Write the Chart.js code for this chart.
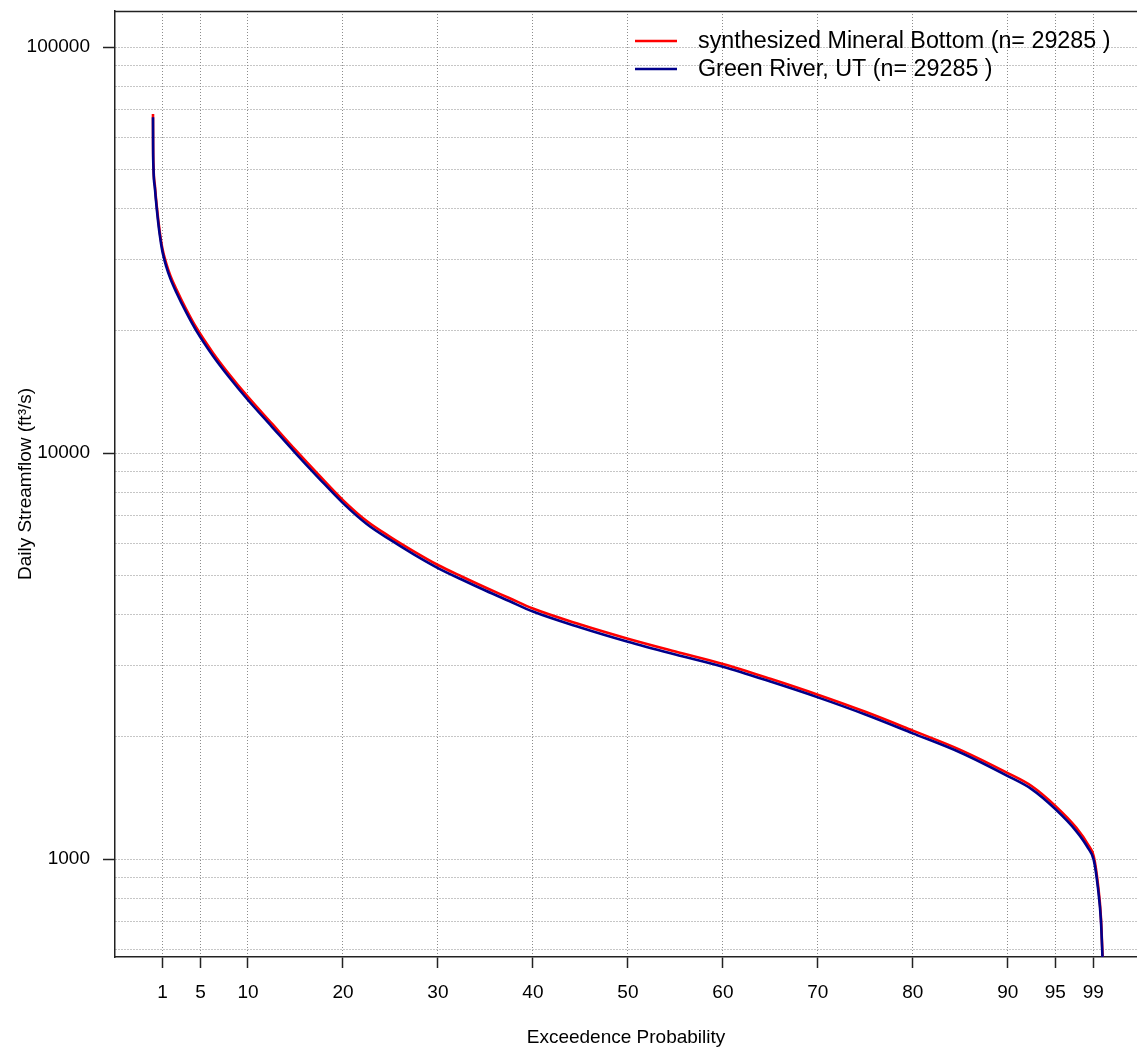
<!DOCTYPE html>
<html><head><meta charset="utf-8">
<script src="https://cdn.jsdelivr.net/npm/chart.js@4.4.1/dist/chart.umd.min.js"></script>
<style>html,body{margin:0;padding:0;background:#fff;overflow:hidden}</style>
</head><body>
<canvas id="c" width="1137" height="1051"></canvas>
<script>
const exceedance = [0, 0.01, 0.05, 0.2, 0.4, 0.7, 1.0, 1.4, 1.83, 2.45, 3.5, 4.57, 6.32, 8, 10, 12.5, 15, 17.5, 20, 22.5, 25, 27.5, 30, 32.5, 35, 37.5, 40, 45, 50, 55, 60, 65, 70, 75, 80, 85, 90, 92.5, 95, 97.2, 98.45, 99.05, 99.5, 99.8, 100];
const mineralBottom = [68400, 58300, 51100, 45600, 40500, 35200, 31800, 29300, 27350, 25350, 22600, 20350, 17650, 15660, 13750, 11830, 10180, 8810, 7660, 6800, 6210, 5720, 5300, 4965, 4665, 4395, 4140, 3782, 3490, 3245, 3025, 2780, 2540, 2305, 2072, 1858, 1628, 1513, 1352, 1195, 1085, 1015, 862, 720, 556];
const greenRiver = [67200, 57400, 50300, 44900, 39900, 34600, 31300, 28800, 26900, 24900, 22200, 20000, 17340, 15390, 13510, 11620, 10000, 8654, 7530, 6690, 6110, 5623, 5210, 4881, 4585, 4320, 4071, 3718, 3429, 3189, 2976, 2736, 2502, 2270, 2040, 1830, 1601, 1487, 1328, 1172, 1064, 994, 844, 707, 548];
const seriesNames = ['synthesized Mineral Bottom (n= 29285 )', 'Green River, UT (n= 29285 )'];
const seriesColors = ['#FF0000', '#00008B'];
const xTickValues = [1, 5, 10, 20, 30, 40, 50, 60, 70, 80, 90, 95, 99];
const yGridValues = [600, 700, 800, 900, 1000, 2000, 3000, 4000, 5000, 6000, 7000, 8000, 9000, 10000, 20000, 30000, 40000, 50000, 60000, 70000, 80000, 90000, 100000];
const yLabelValues = [1000, 10000, 100000];
const xTitle = 'Exceedence Probability';
const yTitle = 'Daily Streamflow (ft\u00B3/s)';

const FONT = '"Liberation Sans", Arial, sans-serif';

const framePlugin = {
  id: 'frameLegend',
  afterDraw(chart) {
    const {ctx, chartArea} = chart;
    ctx.save();
    ctx.strokeStyle = '#222';
    ctx.lineWidth = 1.5;
    ctx.beginPath();
    ctx.moveTo(chartArea.left, chartArea.top + 0.5);
    ctx.lineTo(chartArea.right, chartArea.top + 0.5);
    ctx.stroke();
    // legend
    const x0 = 635, x1 = 677, tx = 698, ys = [41, 69];
    ctx.font = '23.3px ' + FONT;
    ctx.textBaseline = 'middle';
    ctx.fillStyle = '#000';
    seriesNames.forEach((name, i) => {
      ctx.strokeStyle = seriesColors[i];
      ctx.lineWidth = 2.5;
      ctx.beginPath();
      ctx.moveTo(x0, ys[i]);
      ctx.lineTo(x1, ys[i]);
      ctx.stroke();
      ctx.fillText(name, tx, ys[i] + 1);
    });
    ctx.restore();
  }
};

new Chart(document.getElementById('c'), {
  type: 'line',
  data: {
    datasets: [
      {
        label: seriesNames[0],
        data: exceedance.map((x, i) => ({x: x, y: mineralBottom[i]})),
        borderColor: seriesColors[0], borderWidth: 2.6, pointRadius: 0,
        cubicInterpolationMode: 'monotone', fill: false, order: 1
      },
      {
        label: seriesNames[1],
        data: exceedance.map((x, i) => ({x: x, y: greenRiver[i]})),
        borderColor: seriesColors[1], borderWidth: 2.6, pointRadius: 0,
        cubicInterpolationMode: 'monotone', fill: false, order: 0
      }
    ]
  },
  options: {
    responsive: false,
    animation: false,
    devicePixelRatio: 1,
    layout: {padding: {top: 11, right: 0, left: 0, bottom: 0}},
    plugins: {legend: {display: false}, tooltip: {enabled: false}},
    scales: {
      x: {
        type: 'linear',
        min: -4, max: 103.6,
        afterBuildTicks: s => { s.ticks = xTickValues.map(v => ({value: v})); },
        afterFit: s => { s.height = 94; s.paddingLeft = 0; s.paddingRight = 0; },
        ticks: {autoSkip: false, maxRotation: 0, padding: 13, color: '#000',
                font: {family: FONT, size: 19}, callback: v => String(v)},
        grid: {color: '#8c8c8c', lineWidth: 1, tickLength: 11, tickColor: '#222', tickWidth: 1.5},
        border: {display: true, color: '#222', width: 1.5, dash: [1, 2]},
        title: {display: true, text: xTitle, color: '#000', font: {family: FONT, size: 19},
                padding: {top: 0, bottom: 1.6}}
      },
      y: {
        type: 'logarithmic',
        min: 573.8, max: 122700,
        afterBuildTicks: s => { s.ticks = yGridValues.map(v => ({value: v})); },
        afterFit: s => { s.width = 115; s.paddingTop = 0; s.paddingBottom = 0; },
        ticks: {autoSkip: false, padding: 13, color: '#000', font: {family: FONT, size: 19},
                callback: v => yLabelValues.includes(v) ? String(v) : ''},
        grid: {color: '#8c8c8c', lineWidth: 1, tickLength: 12, tickColor: '#222',
               tickWidth: c => (c.tick && yLabelValues.includes(c.tick.value)) ? 1.5 : 0},
        border: {display: true, color: '#222', width: 1.5, dash: [1, 2]},
        title: {display: true, text: yTitle, color: '#000', font: {family: FONT, size: 19},
                padding: {top: 14.6, bottom: 0}}
      }
    }
  },
  plugins: [framePlugin]
});
</script>
</body></html>
